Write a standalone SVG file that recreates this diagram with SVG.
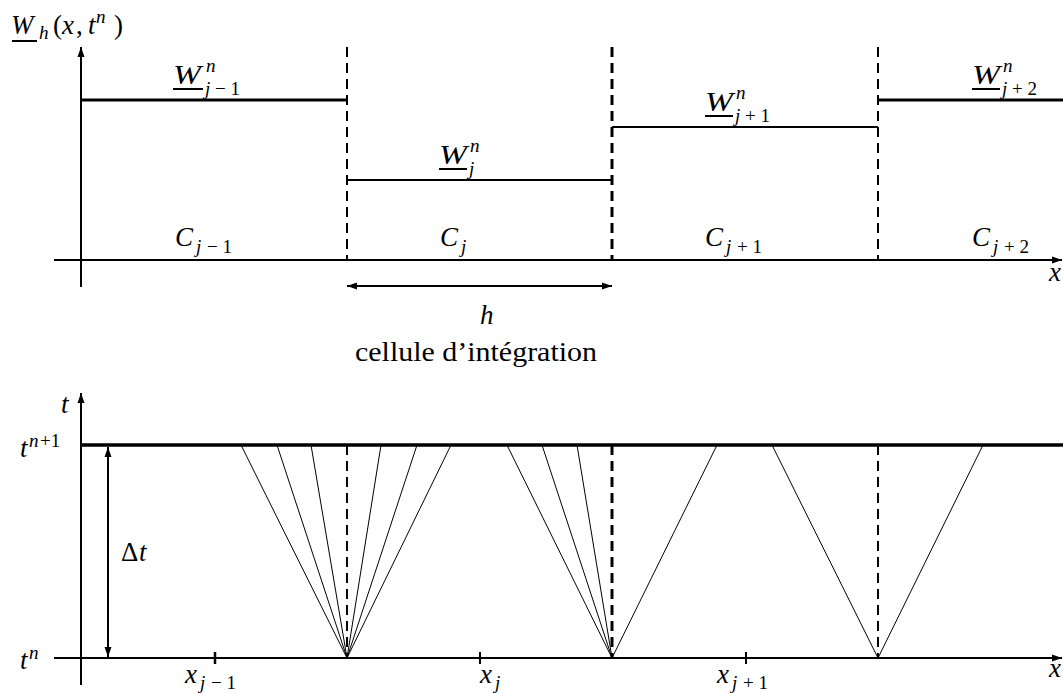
<svg xmlns="http://www.w3.org/2000/svg" width="1063" height="693" viewBox="0 0 1063 693">
<style>
  .ln{stroke:#000;fill:none;stroke-linecap:butt}
  .ax{stroke-width:2}
  .thk{stroke-width:3}
  .med{stroke-width:2}
  .fan{stroke-width:1}
  .dash{stroke-width:2;stroke-dasharray:10,6}
  .dashb{stroke-width:3;stroke-dasharray:10,6}
  .m{font-style:italic;font-size:27px}
  .s{font-style:italic;font-size:19px}
  .r{font-style:normal;font-size:27px}
  .rs{font-style:normal;font-size:19px}
  .ul{stroke:#000;stroke-width:2}
</style>
<defs>
  <marker id="ah" viewBox="0 0 10 10" refX="10" refY="5" markerWidth="10" markerHeight="10" markerUnits="userSpaceOnUse" orient="auto-start-reverse">
    <path d="M0,1.5 L10,5 L0,8.5 Z" fill="#000"/>
  </marker>
</defs>

<g id="connectors">
  <line class="ln ax" x1="81" y1="287" x2="81" y2="47" marker-end="url(#ah)"/>
  <line class="ln ax" x1="54" y1="260" x2="1062" y2="260" marker-end="url(#ah)"/>
  <line class="ln thk" x1="81" y1="100" x2="347" y2="100"/>
  <line class="ln med" x1="347" y1="180" x2="612" y2="180"/>
  <line class="ln med" x1="612" y1="127" x2="878" y2="127"/>
  <line class="ln thk" x1="878" y1="100" x2="1063" y2="100"/>
  <line class="ln dash" x1="347" y1="47" x2="347" y2="260"/>
  <line class="ln dashb" x1="612" y1="47" x2="612" y2="260"/>
  <line class="ln dash" x1="878" y1="47" x2="878" y2="260"/>
  <line class="ln ax" x1="347" y1="286" x2="612" y2="286" marker-start="url(#ah)" marker-end="url(#ah)"/>

  <line class="ln ax" x1="81" y1="685" x2="81" y2="393" marker-end="url(#ah)"/>
  <line class="ln ax" x1="54" y1="658" x2="1062" y2="658" marker-end="url(#ah)"/>
  <line class="ln" stroke-width="3.5" x1="81" y1="445" x2="1063" y2="445"/>
  <line class="ln ax" x1="108" y1="447" x2="108" y2="657" marker-start="url(#ah)" marker-end="url(#ah)"/>
  <line class="ln" stroke-width="2.5" x1="215" y1="652" x2="215" y2="664"/>
  <line class="ln" stroke-width="2" x1="480" y1="652" x2="480" y2="664"/>
  <line class="ln" stroke-width="2" x1="746" y1="652" x2="746" y2="664"/>
  <line class="ln dash" x1="347" y1="445" x2="347" y2="658"/>
  <line class="ln dashb" x1="612" y1="445" x2="612" y2="658"/>
  <line class="ln dash" x1="878" y1="445" x2="878" y2="658"/>
  <g class="ln fan">
    <line x1="347" y1="658" x2="241" y2="445"/>
    <line x1="347" y1="658" x2="277" y2="445"/>
    <line x1="347" y1="658" x2="311" y2="445"/>
    <line x1="347" y1="658" x2="381" y2="445"/>
    <line x1="347" y1="658" x2="417" y2="445"/>
    <line x1="347" y1="658" x2="451" y2="445"/>
    <line x1="612" y1="658" x2="507" y2="445"/>
    <line x1="612" y1="658" x2="542" y2="445"/>
    <line x1="612" y1="658" x2="577" y2="445"/>
    <line x1="612" y1="658" x2="717" y2="445"/>
    <line x1="878" y1="658" x2="772" y2="445"/>
    <line x1="878" y1="658" x2="983" y2="445"/>
  </g>
</g>

<g font-family="Liberation Serif, serif" fill="#000">
<g id="label-Wh">
  <text class="m" x="11" y="34">W</text>
  <line class="ul" x1="12" y1="41" x2="37" y2="41"/>
  <text class="s" x="39" y="39">h</text>
  <text class="r" x="53" y="34">(</text>
  <text class="m" x="62" y="34">x</text>
  <text class="r" x="76" y="34">,</text>
  <text class="m" x="88" y="34">t</text>
  <text class="s" x="96" y="23">n</text>
  <text class="r" x="114" y="34">)</text>
</g>

<g id="label-Wjm1">
  <text class="m" x="173" y="84" textLength="28" lengthAdjust="spacingAndGlyphs">W</text>
  <line class="ul" x1="173" y1="89" x2="203" y2="89"/>
  <text class="s" x="206" y="72">n</text>
  <text class="s" x="205" y="95">j</text>
  <text class="rs" x="215" y="95">− 1</text>
</g>

<g id="label-Wj">
  <text class="m" x="439" y="164" textLength="28" lengthAdjust="spacingAndGlyphs">W</text>
  <line class="ul" x1="439" y1="169" x2="467" y2="169"/>
  <text class="s" x="470" y="152">n</text>
  <text class="s" x="469" y="175">j</text>
</g>

<g id="label-Wjp1">
  <text class="m" x="705" y="111" textLength="28" lengthAdjust="spacingAndGlyphs">W</text>
  <line class="ul" x1="705" y1="116" x2="733" y2="116"/>
  <text class="s" x="736" y="99">n</text>
  <text class="s" x="735" y="122">j</text>
  <text class="rs" x="745" y="122">+ 1</text>
</g>

<g id="label-Wjp2">
  <text class="m" x="972" y="84" textLength="28" lengthAdjust="spacingAndGlyphs">W</text>
  <line class="ul" x1="972" y1="89" x2="1000" y2="89"/>
  <text class="s" x="1003" y="72">n</text>
  <text class="s" x="1002" y="95">j</text>
  <text class="rs" x="1012" y="95">+ 2</text>
</g>

<g id="cell-Cjm1">
  <text class="m" x="175" y="246">C</text>
  <text class="s" x="196" y="253">j</text>
  <text class="rs" x="207" y="253">− 1</text>
</g>
<g id="cell-Cj">
  <text class="m" x="440" y="246">C</text>
  <text class="s" x="461" y="253">j</text>
</g>
<g id="cell-Cjp1">
  <text class="m" x="705" y="246">C</text>
  <text class="s" x="726" y="253">j</text>
  <text class="rs" x="737" y="253">+ 1</text>
</g>
<g id="cell-Cjp2">
  <text class="m" x="972" y="246">C</text>
  <text class="s" x="993" y="253">j</text>
  <text class="rs" x="1004" y="253">+ 2</text>
</g>

<g id="label-x-top">
  <text class="m" x="1049" y="281">x</text>
</g>

<g id="label-h">
  <text class="m" x="480" y="324">h</text>
  <text class="r" x="355" y="361" font-size="23" textLength="242" lengthAdjust="spacingAndGlyphs">cellule d’intégration</text>
</g>

<g id="label-t">
  <text class="m" x="61" y="413">t</text>
</g>
<g id="label-tn1">
  <text class="m" x="20" y="457">t</text>
  <text class="s" x="29" y="447">n</text>
  <text class="rs" x="40" y="447">+1</text>
</g>
<g id="label-tn">
  <text class="m" x="20" y="669">t</text>
  <text class="s" x="29" y="659">n</text>
</g>
<g id="label-dt">
  <text class="r" x="121" y="561">Δ</text>
  <text class="m" x="139" y="561">t</text>
</g>

<g id="label-xjm1">
  <text class="m" x="185" y="683">x</text>
  <text class="s" x="200" y="689">j</text>
  <text class="rs" x="211" y="689">− 1</text>
</g>
<g id="label-xj">
  <text class="m" x="480" y="683">x</text>
  <text class="s" x="495" y="689">j</text>
</g>
<g id="label-xjp1">
  <text class="m" x="717" y="683">x</text>
  <text class="s" x="732" y="689">j</text>
  <text class="rs" x="743" y="689">+ 1</text>
</g>
<g id="label-x-bottom">
  <text class="m" x="1049" y="677">x</text>
</g>
</g>
</svg>
